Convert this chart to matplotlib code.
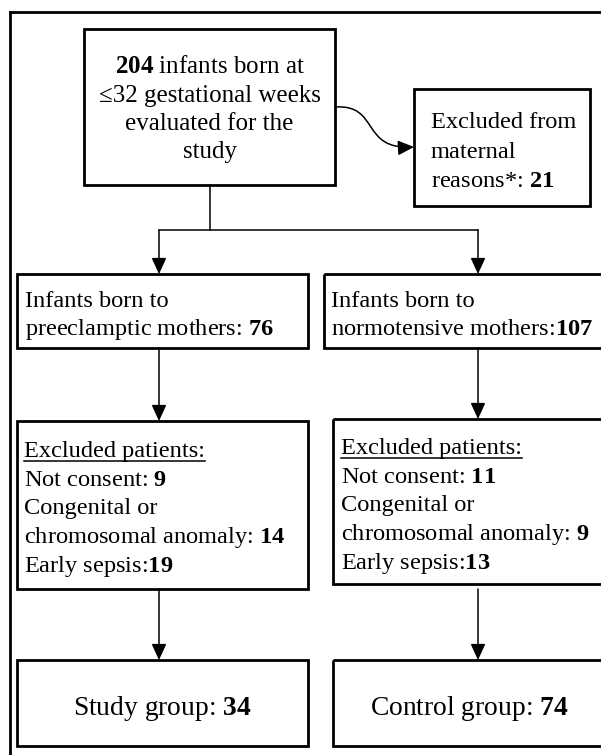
import matplotlib
matplotlib.use("Agg")
import matplotlib.pyplot as plt
from matplotlib.patches import Rectangle, FancyArrowPatch
from matplotlib.path import Path

# ---- data (counts shown in the flowchart) ----
total_evaluated = 204
excluded_maternal = 21
group_names = ["preeclamptic", "normotensive"]
born_counts = [76, 107]
not_consent = [9, 11]
anomaly = [14, 9]
early_sepsis = [19, 13]
final_labels = ["Study group", "Control group"]
final_counts = [34, 74]

plt.rcParams["font.family"] = ["Liberation Serif", "DejaVu Serif"]
plt.rcParams["mathtext.fontset"] = "custom"
plt.rcParams["mathtext.rm"] = "Liberation Serif"
plt.rcParams["mathtext.bf"] = "Liberation Serif:bold"

FS = 17.6
FS_TOP = 18.0
FS_BOTTOM = 19.8
fig = plt.figure(figsize=(6.01, 7.55), dpi=100)
ax = fig.add_axes([0, 0, 1, 1])
ax.set_xlim(0, 601)
ax.set_ylim(755, 0)
ax.axis("off")

BOX_LW = 2.0
LINE_LW = 1.1


def box(x0, y0, x1, y1, lw=BOX_LW):
    ax.add_patch(Rectangle((x0, y0), x1 - x0, y1 - y0, fill=False,
                           edgecolor="black", linewidth=lw, clip_on=True))


def vline_arrow(x, y0, y1):
    ax.add_patch(FancyArrowPatch((x, y0), (x, y1),
                                 arrowstyle="-|>,head_length=0.65,head_width=0.3",
                                 mutation_scale=15, shrinkA=0, shrinkB=0,
                                 color="black", linewidth=LINE_LW))


def lines(texts, x, baselines, ha="left", fs=FS):
    objs = []
    for t, y in zip(texts, baselines):
        objs.append(ax.text(x, y, t, fontsize=fs, ha=ha, va="baseline",
                            color="black"))
    return objs


def b(n):
    return r"$\mathbf{%d}$" % n


# outer frame (partly cropped)
ax.plot([10, 610], [12, 12], color="black", lw=2.0, solid_capstyle="projecting")
ax.plot([10, 10], [12, 760], color="black", lw=2.0, solid_capstyle="projecting")

# top box
box(84, 29, 335, 185)
lines([b(total_evaluated) + " infants born at", "\u226432 gestational weeks",
       "evaluated for the", "study"], 209.5, [73, 102, 130, 158], ha="center",
      fs=FS_TOP)

# excluded maternal box
box(414, 89, 590, 206)
lines(["Excluded from", "maternal", "reasons*: " + b(excluded_maternal)],
      431, [128, 158, 187])

# curved arrow
verts = [(335, 107), (380, 104), (360, 150), (414, 147)]
codes = [Path.MOVETO, Path.CURVE4, Path.CURVE4, Path.CURVE4]
ax.add_patch(FancyArrowPatch(path=Path(verts, codes),
                             arrowstyle="-|>,head_length=0.65,head_width=0.3",
                             mutation_scale=15, color="black",
                             linewidth=LINE_LW, transform=ax.transData))

# split connector
ax.plot([209.5, 209.5], [185, 230], color="black", lw=LINE_LW)
ax.plot([159, 478], [230, 230], color="black", lw=LINE_LW)
vline_arrow(159, 230, 274)
vline_arrow(478, 230, 274)

# row 2
box(17, 274, 308, 348)
box(324, 274, 612, 348)
lines(["Infants born to", "preeclamptic mothers: " + b(born_counts[0])],
      25, [307, 335])
lines(["Infants born to", "normotensive mothers:" + b(born_counts[1])],
      331, [307, 335])

vline_arrow(159, 348, 421)
vline_arrow(478, 348, 419)

# row 3
box(17, 421, 308, 589)
box(333, 419, 612, 584)
for i, (x, base) in enumerate([(24, 457), (341, 454)]):
    ys = [base + k * 28.7 for k in range(5)]
    objs = lines(["Excluded patients:",
                  "Not consent: " + b(not_consent[i]),
                  "Congenital or",
                  "chromosomal anomaly: " + b(anomaly[i]),
                  "Early sepsis:" + b(early_sepsis[i])], x, ys)
    fig.canvas.draw()
    r = fig.canvas.get_renderer()
    bb = objs[0].get_window_extent(r)
    inv = ax.transData.inverted()
    (ux0, _), (ux1, _) = inv.transform([(bb.x0, bb.y0), (bb.x1, bb.y0)])
    ax.plot([ux0, ux1], [ys[0] + 4, ys[0] + 4], color="black", lw=1.1)

vline_arrow(159, 589, 660)
vline_arrow(478, 589, 660)

# row 4
box(17, 660, 308, 746)
box(333, 660, 612, 746)
ax.text(162.5, 715, final_labels[0] + ": " + b(final_counts[0]),
        fontsize=FS_BOTTOM, ha="center", va="baseline")
ax.text(469, 715, final_labels[1] + ": " + b(final_counts[1]),
        fontsize=FS_BOTTOM, ha="center", va="baseline")

fig.savefig("out.png", dpi=100)
